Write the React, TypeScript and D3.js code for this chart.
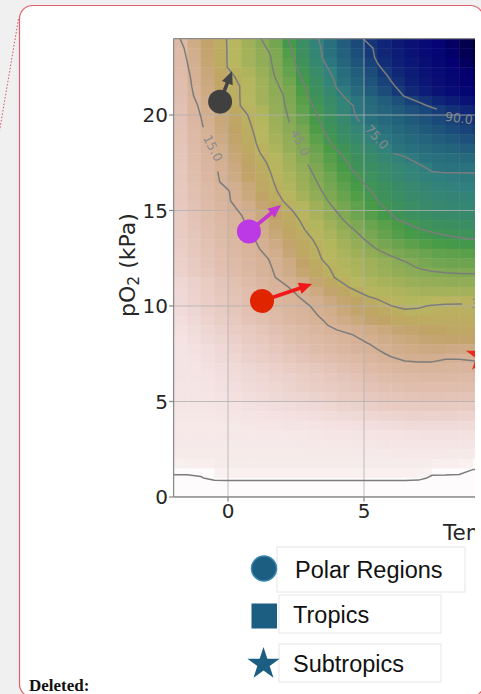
import React, { useEffect, useRef } from 'react';
import * as d3 from 'd3';

// left edge of each grid column, temperature (°C)
const tempCols = [-2, -1.5, -1, -0.5, 0, 0.5, 1, 1.5, 2, 2.5, 3, 3.5, 4, 4.5, 5, 5.5, 6, 6.5, 7, 7.5, 8, 8.5, 9, 9.5];
// lower edge of each grid row, pO2 (kPa), top row first
const po2Rows = [24, 23.5, 23, 22.5, 22, 21.5, 21, 20.5, 20, 19.5, 19, 18.5, 18, 17.5, 17, 16.5, 16, 15.5, 15, 14.5, 14, 13.5, 13, 12.5, 12, 11.5, 11, 10.5, 10, 9.5, 9, 8.5, 8, 7.5, 7, 6.5, 6, 5.5, 5, 4.5, 4, 3.5, 3, 2.5, 2, 1.5, 1, 0.5, 0];

// values, one row per pO2 (top first), one value per temperature column
const gridValues = [
  [12.9, 17.3, 21.6, 26.0, 30.5, 36.3, 42.1, 48.9, 56.8, 64.2, 71.2, 77.0, 81.5, 85.9, 90.2, 92.0, 93.8, 95.3, 96.5, 97.5, 98.3, 99.0, 99.5, 99.8],
  [11.3, 16.1, 20.8, 25.6, 30.4, 35.4, 40.5, 45.9, 54.7, 62.8, 69.8, 76.0, 80.1, 84.1, 88.1, 91.0, 92.8, 94.3, 95.6, 96.7, 97.7, 98.5, 99.2, 99.6],
  [11.0, 15.3, 20.3, 25.4, 30.4, 34.8, 39.2, 43.7, 51.9, 61.3, 68.5, 75.4, 79.4, 83.4, 87.4, 90.7, 92.5, 94.0, 95.3, 96.4, 97.4, 98.2, 98.9, 99.4],
  [10.8, 14.6, 19.8, 25.1, 30.3, 34.6, 38.9, 43.1, 50.3, 59.8, 66.8, 73.7, 78.1, 81.9, 85.7, 89.5, 91.8, 93.4, 94.8, 96.0, 97.0, 97.9, 98.6, 99.1],
  [10.5, 14.0, 18.3, 23.0, 27.6, 32.4, 37.3, 42.2, 48.6, 57.2, 64.6, 71.3, 76.6, 80.2, 83.8, 87.5, 90.7, 92.5, 94.0, 95.3, 96.4, 97.3, 98.0, 98.6],
  [10.3, 13.7, 17.6, 21.9, 26.2, 30.6, 35.7, 40.7, 46.4, 54.9, 62.6, 69.2, 75.4, 78.9, 82.3, 85.7, 89.2, 91.9, 93.5, 94.9, 96.1, 97.1, 97.8, 98.4],
  [10.0, 13.2, 17.0, 21.5, 26.0, 30.6, 35.2, 39.9, 44.5, 52.5, 60.6, 66.8, 73.0, 77.2, 80.5, 83.8, 87.1, 90.3, 92.5, 94.0, 95.3, 96.4, 97.3, 98.0],
  [9.8, 12.6, 15.7, 20.7, 25.6, 30.5, 34.9, 39.3, 43.7, 50.6, 58.6, 64.2, 69.3, 74.4, 77.5, 80.2, 83.0, 85.8, 88.6, 90.9, 92.5, 94.0, 95.2, 96.2],
  [9.5, 12.3, 15.1, 19.4, 23.7, 27.9, 32.6, 37.7, 42.7, 49.0, 56.3, 62.8, 68.5, 74.1, 76.7, 78.7, 80.7, 82.7, 84.8, 86.8, 88.8, 90.6, 91.8, 92.8],
  [9.3, 11.9, 14.5, 18.4, 22.6, 26.9, 31.4, 36.6, 41.8, 47.6, 54.4, 61.0, 66.5, 72.0, 75.8, 77.5, 79.2, 80.9, 82.6, 84.4, 86.1, 87.8, 89.5, 91.0],
  [9.0, 11.5, 13.9, 17.4, 21.7, 26.0, 30.4, 35.4, 40.4, 45.5, 52.4, 59.1, 64.0, 68.6, 73.2, 75.9, 77.5, 79.1, 80.7, 82.3, 83.9, 85.4, 87.0, 88.4],
  [8.8, 11.1, 13.4, 16.4, 20.8, 25.2, 29.6, 34.3, 39.1, 43.9, 50.3, 57.0, 62.2, 66.2, 70.2, 74.2, 76.1, 77.4, 78.7, 80.0, 81.4, 82.7, 84.0, 85.2],
  [8.6, 10.8, 13.0, 15.3, 19.6, 23.9, 28.3, 32.9, 37.7, 42.5, 47.7, 53.3, 58.9, 63.1, 67.0, 70.9, 74.8, 76.0, 77.0, 78.0, 79.0, 80.0, 81.0, 81.8],
  [8.5, 10.5, 12.6, 14.6, 18.3, 22.4, 26.5, 30.7, 35.8, 40.8, 45.9, 51.1, 56.3, 60.9, 64.0, 67.1, 70.1, 73.2, 75.3, 76.0, 76.6, 77.3, 78.0, 78.6],
  [8.3, 10.3, 12.2, 14.2, 17.3, 21.3, 25.3, 29.4, 34.2, 39.1, 44.1, 49.1, 54.0, 59.0, 62.3, 65.0, 67.6, 70.0, 72.5, 74.9, 75.1, 75.1, 75.1, 75.2],
  [8.2, 10.1, 12.0, 13.9, 16.7, 20.6, 24.5, 28.4, 32.9, 37.6, 42.4, 47.1, 51.7, 56.3, 60.4, 63.5, 66.2, 68.4, 70.2, 71.6, 72.6, 73.2, 73.5, 73.7],
  [8.0, 9.7, 11.3, 13.0, 14.6, 18.4, 22.8, 27.2, 31.7, 36.3, 40.9, 45.4, 49.7, 54.0, 58.3, 61.3, 64.0, 66.3, 68.2, 69.7, 70.8, 71.5, 72.0, 72.3],
  [8.0, 9.6, 11.2, 12.8, 14.4, 17.5, 21.6, 25.7, 29.8, 34.3, 38.9, 43.5, 47.8, 51.8, 55.9, 60.0, 62.6, 64.8, 66.6, 68.0, 69.0, 69.6, 70.0, 70.2],
  [7.8, 9.3, 10.8, 12.2, 13.7, 15.5, 19.3, 23.2, 27.0, 31.1, 35.9, 40.7, 45.4, 49.5, 53.5, 57.6, 60.9, 63.0, 64.8, 66.1, 67.1, 67.6, 68.0, 68.2],
  [7.6, 9.0, 10.4, 11.7, 13.1, 14.5, 17.4, 21.2, 25.0, 28.9, 33.3, 38.1, 42.9, 47.2, 51.0, 54.9, 58.7, 61.2, 62.9, 64.2, 65.1, 65.6, 66.0, 66.2],
  [7.5, 8.8, 10.1, 11.5, 12.8, 14.1, 16.2, 20.0, 23.7, 27.5, 31.4, 35.6, 39.9, 44.1, 47.4, 50.5, 53.5, 56.6, 59.6, 60.9, 61.9, 62.5, 63.0, 63.2],
  [7.2, 8.5, 9.8, 11.1, 12.4, 13.7, 15.1, 18.5, 22.1, 25.6, 29.2, 33.0, 37.0, 41.0, 45.0, 48.5, 51.5, 54.0, 56.0, 57.6, 58.7, 59.5, 60.0, 60.3],
  [7.0, 8.2, 9.4, 10.6, 11.8, 13.1, 14.3, 16.5, 20.3, 24.0, 27.8, 31.4, 35.0, 38.6, 42.1, 45.4, 47.8, 50.0, 52.0, 53.6, 54.8, 55.7, 56.3, 56.6],
  [6.8, 8.0, 9.1, 10.3, 11.5, 12.7, 13.8, 15.1, 18.9, 22.9, 26.8, 30.5, 33.2, 36.0, 38.7, 41.4, 44.2, 46.1, 47.5, 48.8, 49.8, 50.5, 51.0, 51.3],
  [6.5, 7.6, 8.8, 9.9, 11.0, 12.2, 13.3, 14.4, 17.0, 20.9, 24.8, 28.7, 31.5, 33.8, 36.0, 38.2, 40.5, 42.8, 45.2, 46.2, 46.9, 47.2, 47.4, 47.5],
  [6.0, 7.2, 8.3, 9.5, 10.6, 11.8, 13.0, 14.1, 16.0, 19.8, 23.5, 27.3, 30.6, 32.8, 34.9, 36.9, 38.7, 40.4, 41.8, 42.8, 43.3, 43.5, 43.6, 43.7],
  [5.2, 6.3, 7.5, 8.6, 9.7, 10.8, 12.0, 13.1, 14.2, 16.1, 19.8, 23.5, 27.3, 30.5, 32.3, 34.0, 35.5, 36.8, 37.8, 38.5, 38.9, 39.1, 39.2, 39.3],
  [5.0, 6.1, 7.1, 8.2, 9.3, 10.3, 11.4, 12.5, 13.5, 14.6, 17.0, 20.1, 23.2, 26.3, 29.4, 31.2, 32.5, 33.5, 34.2, 34.6, 34.8, 35.0, 35.0, 35.1],
  [4.8, 5.8, 6.8, 7.8, 8.9, 9.9, 10.9, 11.9, 12.9, 13.9, 14.9, 17.3, 19.8, 22.3, 24.8, 27.3, 29.9, 31.0, 30.6, 29.6, 28.9, 28.6, 28.6, 28.7],
  [4.5, 5.5, 6.4, 7.4, 8.4, 9.4, 10.3, 11.3, 12.3, 13.2, 14.2, 15.5, 17.9, 20.3, 22.5, 24.5, 26.3, 28.0, 28.0, 27.5, 27.2, 27.0, 27.0, 27.0],
  [4.0, 5.0, 5.9, 6.9, 7.8, 8.8, 9.7, 10.7, 11.7, 12.6, 13.6, 14.5, 16.1, 18.2, 20.1, 21.7, 23.0, 24.0, 24.7, 25.1, 25.3, 25.3, 25.3, 25.3],
  [3.5, 4.4, 5.2, 6.1, 7.0, 7.8, 8.7, 9.6, 10.4, 11.3, 12.2, 13.0, 13.9, 14.8, 16.1, 17.7, 19.2, 20.5, 21.5, 22.3, 22.8, 23.0, 23.0, 23.0],
  [3.2, 4.0, 4.8, 5.6, 6.4, 7.3, 8.1, 8.9, 9.7, 10.5, 11.3, 12.1, 12.9, 13.7, 14.5, 15.7, 17.0, 18.2, 19.2, 19.9, 20.3, 20.4, 20.4, 20.4],
  [3.0, 3.5, 4.2, 5.0, 5.8, 6.6, 7.4, 8.2, 9.0, 9.8, 10.6, 11.4, 12.2, 13.0, 13.7, 14.4, 15.5, 16.3, 16.9, 17.3, 16.6, 16.6, 17.0, 17.2],
  [3.0, 3.3, 3.9, 4.6, 5.3, 6.0, 6.7, 7.4, 8.1, 8.8, 9.5, 10.2, 10.9, 11.6, 12.3, 13.1, 13.9, 14.6, 14.7, 14.6, 13.8, 13.8, 14.3, 14.6],
  [3.0, 3.1, 3.5, 4.1, 4.7, 5.3, 5.9, 6.5, 7.1, 7.7, 8.3, 8.9, 9.6, 10.3, 11.0, 11.7, 12.3, 12.7, 12.9, 12.9, 12.7, 12.6, 12.8, 13.0],
  [3.0, 3.0, 3.3, 3.8, 4.3, 4.8, 5.3, 5.8, 6.3, 6.9, 7.4, 8.0, 8.6, 9.2, 9.8, 10.4, 10.9, 11.3, 11.5, 11.5, 11.4, 11.3, 11.4, 11.5],
  [2.9, 2.9, 3.1, 3.5, 4.0, 4.5, 5.0, 5.4, 5.9, 6.4, 6.9, 7.4, 7.9, 8.5, 9.0, 9.5, 9.9, 10.2, 10.3, 10.3, 10.2, 10.1, 10.2, 10.3],
  [2.8, 2.8, 2.9, 3.2, 3.6, 4.0, 4.4, 4.8, 5.2, 5.6, 6.0, 6.5, 7.0, 7.5, 8.0, 8.4, 8.7, 8.9, 9.0, 9.0, 8.9, 8.8, 8.9, 9.0],
  [2.8, 2.8, 2.8, 3.0, 3.2, 3.5, 3.8, 4.1, 4.4, 4.7, 5.0, 5.4, 5.8, 6.2, 6.6, 7.0, 7.3, 7.5, 7.6, 7.6, 7.5, 7.4, 7.4, 7.5],
  [2.7, 2.7, 2.7, 2.8, 2.9, 3.0, 3.2, 3.4, 3.6, 3.8, 4.0, 4.3, 4.6, 4.9, 5.2, 5.5, 5.8, 6.0, 6.1, 6.1, 6.0, 5.9, 5.9, 6.0],
  [2.6, 2.6, 2.6, 2.6, 2.6, 2.7, 2.8, 2.9, 3.0, 3.1, 3.2, 3.4, 3.6, 3.8, 4.0, 4.2, 4.4, 4.6, 4.7, 4.7, 4.6, 4.5, 4.5, 4.6],
  [2.5, 2.5, 2.5, 2.5, 2.5, 2.5, 2.5, 2.5, 2.5, 2.6, 2.7, 2.8, 2.9, 3.0, 3.1, 3.2, 3.3, 3.4, 3.5, 3.5, 3.5, 3.5, 3.5, 3.5],
  [2.4, 2.4, 2.4, 2.4, 2.4, 2.4, 2.4, 2.4, 2.4, 2.5, 2.5, 2.6, 2.6, 2.7, 2.7, 2.8, 2.8, 2.9, 2.9, 2.9, 2.9, 2.8, 2.7, 2.6],
  [2.2, 2.2, 2.2, 2.2, 2.2, 2.2, 2.2, 2.2, 2.2, 2.2, 2.3, 2.3, 2.3, 2.4, 2.4, 2.4, 2.5, 2.5, 2.5, 2.5, 2.4, 2.3, 2.0, 1.8],
  [1.6, 1.7, 1.8, 2.0, 2.0, 2.0, 2.0, 2.0, 2.0, 2.0, 2.0, 2.0, 2.0, 2.0, 2.0, 2.0, 2.0, 2.0, 2.0, 1.8, 1.7, 1.5, 0.3, 0.0],
  [-0.8, -0.8, -0.3, 1.3, 1.5, 1.5, 1.5, 1.5, 1.5, 1.5, 1.5, 1.5, 1.5, 1.5, 1.5, 1.5, 1.5, 1.5, 1.2, -0.7, -0.7, -0.8, -2.0, -2.5],
  [-4, -4, -4, -4, -4, -4, -4, -4, -4, -4, -4, -4, -4, -4, -4, -4, -4, -4, -4, -4, -4, -4, -4, -4],
  [-6, -6, -6, -6, -6, -6, -6, -6, -6, -6, -6, -6, -6, -6, -6, -6, -6, -6, -6, -6, -6, -6, -6, -6],
];

const contourLevels = [0, 15, 30, 45, 60, 75, 90];
const labelLevels = [15, 45, 75, 90, 30];
const labelTemps = [-0.55, 2.66, 5.47, 8.49, 9.45];
const labelPo2s = [18.27, 18.55, 18.85, 19.84, 10.16];
const labelAngles = [63, 64, 47, 7, -2];

const xTicks = [0, 5];
const yTicks = [0, 5, 10, 15, 20];

// circle markers with their arrows
const siteTemps = [-0.29, 0.77, 1.25];
const sitePo2s = [20.7, 13.9, 10.26];
const siteTipTemps = [0.15, 1.95, 3.09];
const siteTipPo2s = [22.3, 15.29, 11.15];
const siteColors = ['#404040', '#bb3ae6', '#e02400'];
const siteArrowColors = ['#444444', '#c437d2', '#f01818'];
// star marker (mostly outside the visible crop)
const starTemp = 9.34;
const starPo2 = 7.38;

const legendLabels = ['Polar Regions', 'Tropics', 'Subtropics'];
const legendShapes = ['circle', 'square', 'star'];

// matplotlib gist_earth segment data
const earthRed = [[0, 0], [0.2824, 0.1882], [0.4588, 0.2714], [0.549, 0.4719], [0.698, 0.7176], [0.7882, 0.7553], [1, 0.9922]];
const earthGreen = [[0, 0], [0.0275, 0], [0.1098, 0.1893], [0.1647, 0.3035], [0.2078, 0.3841], [0.2824, 0.502], [0.5216, 0.6397], [0.698, 0.7171], [0.7882, 0.6392], [0.7922, 0.6413], [0.8, 0.6447], [0.8078, 0.6481], [0.8157, 0.6549], [0.8667, 0.6991], [0.8745, 0.7103], [0.8824, 0.7216], [0.8902, 0.7323], [0.898, 0.743], [0.9412, 0.8275], [0.9569, 0.8635], [0.9647, 0.8816], [0.9961, 0.9733], [1, 0.9843]];
const earthBlue = [[0, 0], [0.0039, 0.1684], [0.0078, 0.2212], [0.0275, 0.4329], [0.0314, 0.4549], [0.2824, 0.5004], [0.4667, 0.2748], [0.5451, 0.3205], [0.7843, 0.3961], [0.8941, 0.6651], [1, 0.9843]];

const channel = (stops: number[][]) =>
  d3.scaleLinear().domain(stops.map(s => s[0])).range(stops.map(s => s[1])).clamp(true);

const starPath = (cx: number, cy: number, R: number) => {
  const r = R * 0.381966;
  const pts = d3.range(10).map(i => {
    const a = -Math.PI / 2 + (i * Math.PI) / 5;
    const rad = i % 2 === 0 ? R : r;
    return [cx + rad * Math.cos(a), cy + rad * Math.sin(a)];
  });
  return 'M' + pts.map(p => p.join(',')).join('L') + 'Z';
};

const arrowPoints = (x0: number, y0: number, x1: number, y1: number, shaft: number, headW: number, headL: number) => {
  const dx = x1 - x0, dy = y1 - y0, len = Math.hypot(dx, dy);
  const ux = dx / len, uy = dy / len, nx = -uy, ny = ux;
  const bx = x1 - ux * headL, by = y1 - uy * headL;
  return [
    [x0 + nx * shaft / 2, y0 + ny * shaft / 2],
    [bx + nx * shaft / 2, by + ny * shaft / 2],
    [bx + nx * headW / 2, by + ny * headW / 2],
    [x1, y1],
    [bx - nx * headW / 2, by - ny * headW / 2],
    [bx - nx * shaft / 2, by - ny * shaft / 2],
    [x0 - nx * shaft / 2, y0 - ny * shaft / 2],
  ].map(p => p.join(',')).join(' ');
};

const W = 481;
const H = 694;

const App = () => {
  const ref = useRef<SVGSVGElement | null>(null);

  useEffect(() => {
    if (!ref.current) return;
    const svg = d3.select(ref.current);
    svg.selectAll('*').remove();

    const plotLeft = 173.6, plotTop = 38.6, plotRight = 475, plotBottom = 497;
    const x = d3.scaleLinear().domain([-2, 10]).range([173.6, 500]);
    const y = d3.scaleLinear().domain([0, 24]).range([497, 38.6]);

    const red = channel(earthRed), green = channel(earthGreen), blue = channel(earthBlue);
    const norm = d3.scaleLinear().domain([0, 100]).range([1, 0]).clamp(true); // reversed map
    const earth = (v: number) => {
      const t = norm(v);
      return d3.rgb(red(t) * 255, green(t) * 255, blue(t) * 255).formatHex();
    };

    // page background and comment balloon
    svg.append('rect').attr('width', W).attr('height', H).attr('fill', '#f0f0f0');
    svg.append('rect')
      .attr('x', 19.5).attr('y', 5.5).attr('width', 464).attr('height', 691.5).attr('rx', 13)
      .attr('fill', '#ffffff').attr('stroke', '#e0606c').attr('stroke-width', 1.2);
    svg.append('line')
      .attr('x1', 18.5).attr('y1', 19).attr('x2', -1).attr('y2', 134)
      .attr('stroke', '#d9505e').attr('stroke-width', 1).attr('stroke-dasharray', '1.5,1.8');

    const defs = svg.append('defs');
    defs.append('clipPath').attr('id', 'plotClip')
      .append('rect').attr('x', plotLeft).attr('y', plotTop)
      .attr('width', plotRight - plotLeft).attr('height', plotBottom - plotTop);
    defs.append('clipPath').attr('id', 'cropClip')
      .append('rect').attr('x', 0).attr('y', 0).attr('width', plotRight).attr('height', H);

    // label gaps in the contour lines
    const mask = defs.append('mask').attr('id', 'labelGap').attr('maskUnits', 'userSpaceOnUse')
      .attr('x', 0).attr('y', 0).attr('width', W + 100).attr('height', H);
    mask.append('rect').attr('x', 0).attr('y', 0).attr('width', W + 100).attr('height', H).attr('fill', 'white');
    labelLevels.forEach((lv, i) => {
      mask.append('rect')
        .attr('x', -23).attr('y', -8).attr('width', 46).attr('height', 16)
        .attr('fill', 'black')
        .attr('transform', `translate(${x(labelTemps[i])},${y(labelPo2s[i])}) rotate(${labelAngles[i]})`);
    });

    // heat map cells
    const dT = tempCols[1] - tempCols[0];
    const dP = po2Rows[0] - po2Rows[1];
    const heat = svg.append('g').attr('clip-path', 'url(#plotClip)');
    gridValues.forEach((row, i) => {
      row.forEach((v, j) => {
        const t0 = tempCols[j], p0 = po2Rows[i];
        heat.append('rect')
          .attr('x', x(t0))
          .attr('y', y(p0 + dP))
          .attr('width', x(t0 + dT) - x(t0) + 0.5)
          .attr('height', y(p0) - y(p0 + dP) + 0.5)
          .attr('fill', earth(v));
      });
    });

    // grid
    const grid = svg.append('g').attr('clip-path', 'url(#plotClip)')
      .attr('stroke', '#b0b0b0').attr('stroke-opacity', 0.8).attr('stroke-width', 1);
    xTicks.forEach(t => grid.append('line').attr('x1', x(t)).attr('x2', x(t)).attr('y1', plotTop).attr('y2', plotBottom));
    yTicks.forEach(p => grid.append('line').attr('x1', plotLeft).attr('x2', plotRight).attr('y1', y(p)).attr('y2', y(p)));

    // contour lines, samples sit at the lower-left corner of each cell
    const nx = tempCols.length, ny = po2Rows.length;
    const contours = d3.contours().size([nx, ny]).thresholds(contourLevels)(gridValues.flat());
    const proj = d3.geoTransform({
      point(cx: number, cy: number) {
        (this as any).stream.point(
          x(tempCols[0] + dT * (cx - 0.5)),
          y(po2Rows[0] - dP * (cy - 0.5))
        );
      },
    });
    const path = d3.geoPath(proj);
    const lines = svg.append('g').attr('clip-path', 'url(#plotClip)');
    lines.append('g').attr('mask', 'url(#labelGap)')
      .selectAll('path').data(contours).enter().append('path')
      .attr('d', d => path(d as any) || '')
      .attr('fill', 'none').attr('stroke', '#7c7c7c').attr('stroke-width', 1.5)
      .attr('stroke-linejoin', 'round');

    lines.selectAll('.clabel').data(labelLevels).enter().append('text')
      .attr('class', 'clabel')
      .attr('transform', (d, i) => `translate(${x(labelTemps[i])},${y(labelPo2s[i])}) rotate(${labelAngles[i]})`)
      .attr('text-anchor', 'middle').attr('dominant-baseline', 'central')
      .style('font-family', 'DejaVu Sans').style('font-size', '12.5px').style('fill', '#8a8a8a')
      .text(d => d.toFixed(1));

    // markers and arrows
    const marks = svg.append('g').attr('clip-path', 'url(#plotClip)');
    siteTemps.forEach((t, i) => {
      const x0 = x(t), y0 = y(sitePo2s[i]);
      marks.append('polygon')
        .attr('points', arrowPoints(x0, y0, x(siteTipTemps[i]), y(siteTipPo2s[i]), 3.6, 11.5, 13))
        .attr('fill', siteArrowColors[i]);
      marks.append('circle').attr('cx', x0).attr('cy', y0).attr('r', 12).attr('fill', siteColors[i]);
    });
    marks.append('path').attr('d', starPath(x(starTemp), y(starPo2), 17)).attr('fill', '#ea2a1a');

    // spines and ticks
    const axisColor = '#8c8c8c';
    const frame = svg.append('g').attr('clip-path', 'url(#cropClip)')
      .attr('stroke', axisColor).attr('stroke-width', 1.3);
    frame.append('line').attr('x1', plotLeft).attr('x2', plotLeft).attr('y1', plotTop).attr('y2', plotBottom);
    frame.append('line').attr('x1', plotLeft).attr('x2', plotRight).attr('y1', plotBottom).attr('y2', plotBottom);
    frame.append('line').attr('x1', plotLeft).attr('x2', plotRight).attr('y1', plotTop).attr('y2', plotTop);
    yTicks.forEach(p => frame.append('line').attr('x1', plotLeft - 4.5).attr('x2', plotLeft).attr('y1', y(p)).attr('y2', y(p)));
    xTicks.forEach(t => frame.append('line').attr('x1', x(t)).attr('x2', x(t)).attr('y1', plotBottom).attr('y2', plotBottom + 4.5));

    const tickFont = { family: 'DejaVu Sans', size: '20px', color: '#262626' };
    yTicks.forEach(p => {
      svg.append('text')
        .attr('x', 168).attr('y', y(p)).attr('text-anchor', 'end').attr('dominant-baseline', 'central')
        .style('font-family', tickFont.family).style('font-size', tickFont.size).style('fill', tickFont.color)
        .text(String(p));
    });
    xTicks.forEach(t => {
      svg.append('text')
        .attr('x', x(t)).attr('y', 517.5).attr('text-anchor', 'middle')
        .style('font-family', tickFont.family).style('font-size', tickFont.size).style('fill', tickFont.color)
        .text(String(t));
    });

    // axis labels
    const yl = svg.append('text')
      .attr('transform', 'translate(135,265) rotate(-90)')
      .attr('text-anchor', 'middle')
      .style('font-family', 'DejaVu Sans').style('font-size', '22px').style('fill', '#262626');
    yl.append('tspan').text('pO');
    yl.append('tspan').attr('dy', 4).style('font-size', '15.5px').text('2');
    yl.append('tspan').attr('dy', -4).text(' (kPa)');

    svg.append('text')
      .attr('clip-path', 'url(#cropClip)')
      .attr('x', 443).attr('y', 540)
      .style('font-family', 'DejaVu Sans').style('font-size', '21.5px').style('fill', '#262626')
      .text('Temperature (°C)');

    // legend
    const legendColor = '#1b5e81';
    const boxX = [277, 279, 279];
    const boxW = [188, 162, 162];
    const boxY = [547, 595, 644];
    const boxH = [45, 38, 38];
    const textX = [295, 293, 293];
    const textY = [578, 622.5, 672];
    const symY = [568.5, 616, 664];
    legendLabels.forEach((label, i) => {
      svg.append('rect')
        .attr('x', boxX[i]).attr('y', boxY[i]).attr('width', boxW[i]).attr('height', boxH[i])
        .attr('fill', '#ffffff').attr('stroke', '#e6e6e6').attr('stroke-width', 1);
      const shape = legendShapes[i];
      if (shape === 'circle') {
        svg.append('circle').attr('cx', 264).attr('cy', symY[i]).attr('r', 12.5)
          .attr('fill', legendColor).attr('stroke', '#3a86b0').attr('stroke-width', 1.5);
      } else if (shape === 'square') {
        svg.append('rect').attr('x', 251.5).attr('y', symY[i] - 12.5).attr('width', 25.5).attr('height', 25)
          .attr('fill', legendColor);
      } else {
        svg.append('path').attr('d', starPath(263.5, symY[i], 17)).attr('fill', legendColor);
      }
      svg.append('text')
        .attr('x', textX[i]).attr('y', textY[i])
        .style('font-family', 'Liberation Sans, Arial, sans-serif').style('font-size', '23.5px').style('fill', '#111111')
        .text(label);
    });

    svg.append('text')
      .attr('x', 29).attr('y', 690.5)
      .style('font-family', 'Liberation Serif, Times New Roman, serif').style('font-weight', 'bold')
      .style('font-size', '17px').style('fill', '#111111')
      .text('Deleted:');
  }, []);

  return (
    <div style={{ position: 'absolute', left: 0, top: 0, width: W, height: H, overflow: 'hidden' }}>
      <svg ref={ref} width={W} height={H} style={{ display: 'block' }} />
    </div>
  );
};

export default App;
